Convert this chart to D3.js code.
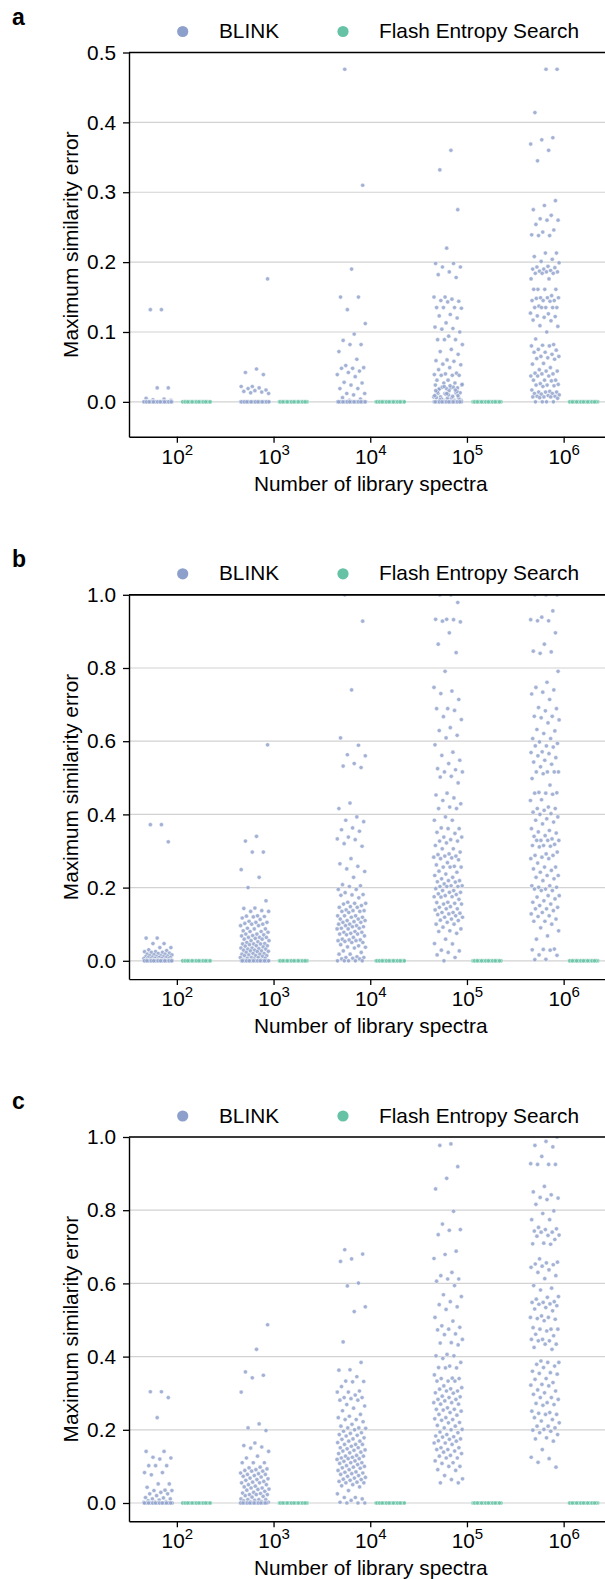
<!DOCTYPE html>
<html>
<head>
<meta charset="utf-8">
<script src="https://cdn.jsdelivr.net/npm/d3@7"></script>
<style>
  body { margin: 0; background: #fff; }
  svg { display: block; font-family: "Liberation Sans", Arial, Helvetica, sans-serif; }
</style>
</head>
<body>
<svg id="chart" width="605" height="1579"></svg>
<script>
// categories: number of library spectra, 10^k
const exponents = [2, 3, 4, 5, 6];
const seriesNames = ['BLINK', 'Flash Entropy Search'];
const panelLetters = ['a', 'b', 'c'];
const yTicksA = [0, 0.1, 0.2, 0.3, 0.4, 0.5];
const yTicksBC = [0, 0.2, 0.4, 0.6, 0.8, 1.0];
const yDomainA = [-0.05, 0.5];
const yDomainBC = [-0.05, 1.0];

// ---- panel a, BLINK max similarity error ----
const blinkA2 = [0.132, 0.132, 0.02, 0.02, 0.005, 0.004, 0.003, 0.002,
  0,0,0,0,0,0,0,0,0,0,0,0,0,0,0,0,0,0,0,0,0,0,0,0,0,0,0,0,0,0,0,0,0,0,0,0];
const blinkA3 = [0.176, 0.047, 0.042, 0.039, 0.022, 0.022, 0.02, 0.019, 0.017, 0.016, 0.015, 0.014, 0.013, 0.012,
  0,0,0,0,0,0,0,0,0,0,0,0,0,0,0,0,0,0,0,0,0,0,0,0,0,0,0,0,0,0,0,0,0,0,0,0];
const blinkA4 = [0.476, 0.31, 0.19, 0.15, 0.15, 0.132, 0.112, 0.097, 0.088, 0.082, 0.082, 0.072, 0.061, 0.052,
  0.049, 0.048, 0.048, 0.044, 0.042, 0.039, 0.036, 0.028, 0.027, 0.024, 0.019, 0.019, 0.012, 0.012, 0.01,
  0.006, 0.004, 0.002,
  0,0,0,0,0,0,0,0,0,0,0,0,0,0,0,0,0,0,0,0,0,0,0,0,0,0,0,0,0,0,0,0,0,0,0];
const blinkA5 = [0.36, 0.332, 0.275, 0.22, 0.198, 0.198, 0.193, 0.193, 0.186, 0.182, 0.178, 0.15, 0.15, 0.147,
  0.145, 0.144, 0.143, 0.135, 0.135, 0.135, 0.134, 0.125, 0.123, 0.12, 0.113, 0.107, 0.105, 0.104, 0.1, 0.094,
  0.089, 0.089, 0.089, 0.082, 0.075, 0.072, 0.068, 0.06, 0.059, 0.058, 0.054, 0.053, 0.049, 0.046, 0.041, 0.04,
  0.039, 0.038, 0.038, 0.038, 0.031, 0.031, 0.027, 0.027, 0.024, 0.02, 0.019, 0.02, 0.019, 0.024, 0.021, 0.021,
  0.013, 0.016, 0.012, 0.013, 0.012, 0.007, 0.005, 0.007, 0.006, 0.005, 0.006, 0.002, 0.002, 0.002, 0.023,
  0.018, 0.015, 0.011, 0.009, 0.008, 0.004, 0.003, 0.01, 0.014, 0.017, 0.022, 0.025, 0.001, 0.003, 0.009, 0.012,
  0.016, 0,0,0,0,0,0,0,0,0,0,0,0,0,0,0,0,0,0,0,0,0,0,0,0,0];
const blinkA6 = [0.476, 0.476, 0.414, 0.378, 0.375, 0.369, 0.36, 0.345, 0.288, 0.281, 0.275, 0.267, 0.262, 0.26,
  0.26, 0.254, 0.246, 0.243, 0.239, 0.238, 0.238, 0.213, 0.213, 0.208, 0.204, 0.201, 0.199, 0.194, 0.193, 0.192,
  0.19, 0.19, 0.188, 0.187, 0.186, 0.186, 0.184, 0.184, 0.184, 0.176, 0.176, 0.161, 0.161, 0.161, 0.161, 0.152,
  0.149, 0.149, 0.149, 0.148, 0.145, 0.145, 0.145, 0.144, 0.137, 0.135, 0.135, 0.135, 0.135, 0.135, 0.127,
  0.126, 0.123, 0.122, 0.121, 0.117, 0.116, 0.109, 0.108, 0.1, 0.09, 0.082, 0.081, 0.08, 0.08, 0.075, 0.074,
  0.071, 0.071, 0.068, 0.065, 0.065, 0.063, 0.062, 0.061, 0.055, 0.054, 0.049, 0.046, 0.044, 0.044, 0.041, 0.04,
  0.04, 0.037, 0.037, 0.037, 0.031, 0.031, 0.031, 0.03, 0.026, 0.025, 0.024, 0.024, 0.023, 0.022, 0.017, 0.015,
  0.014, 0.014, 0.014, 0.012, 0.012, 0.011, 0.01, 0.009, 0.008, 0.008, 0.007, 0.007, 0.007, 0.006, 0.005,
  0, 0, 0, 0];

// ---- panel b ----
const blinkB2 = [0.372, 0.372, 0.325, 0.062, 0.062, 0.047, 0.047, 0.036, 0.036, 0.03, 0.028, 0.025, 0.025,
  0.023, 0.023, 0.021, 0.02, 0.018, 0.018, 0.017, 0.016, 0.014, 0.014, 0.013, 0.012, 0.011, 0.011, 0.01, 0.009,
  0.009, 0.008, 0.008, 0.007, 0.006, 0.006, 0.005, 0.005, 0.004, 0.004, 0.003, 0.002, 0.002,
  0,0,0,0,0,0,0,0,0,0,0,0,0,0,0,0,0,0,0,0,0,0,0,0,0,0,0,0,0,0,0,0,0,0,0];
const blinkB3 = [0.59, 0.34, 0.327, 0.297, 0.297, 0.249, 0.228, 0.2, 0.164, 0.144, 0.143, 0.137, 0.135, 0.135,
  0.123, 0.122, 0.121, 0.12, 0.117, 0.113, 0.108, 0.105, 0.105, 0.102, 0.1, 0.1, 0.096, 0.096, 0.089, 0.087,
  0.087, 0.082, 0.08, 0.08, 0.078, 0.073, 0.073, 0.071, 0.069, 0.068, 0.064, 0.064, 0.064, 0.061, 0.059, 0.059,
  0.055, 0.055, 0.052, 0.05, 0.047, 0.046, 0.046, 0.046, 0.044, 0.041, 0.041, 0.04, 0.038, 0.035, 0.035, 0.033,
  0.032, 0.032, 0.029, 0.029, 0.027, 0.027, 0.026, 0.025, 0.023, 0.02, 0.02, 0.018, 0.018, 0.016, 0.014, 0.014,
  0.014, 0.012, 0.009, 0.009, 0.009, 0.007, 0.007, 0.005, 0.003, 0.002,
  0,0,0,0,0,0,0,0,0,0,0,0,0,0,0,0,0,0,0,0,0,0];
const blinkB4 = [1.0, 0.928, 0.74, 0.609, 0.589, 0.563, 0.56, 0.539, 0.532, 0.528, 0.431, 0.416, 0.393, 0.384,
  0.38, 0.363, 0.358, 0.354, 0.338, 0.333, 0.331, 0.32, 0.313, 0.279, 0.265, 0.258, 0.251, 0.244, 0.228, 0.208,
  0.205, 0.203, 0.195, 0.195, 0.186, 0.181, 0.18, 0.179, 0.172, 0.16, 0.157, 0.157, 0.155, 0.151, 0.148, 0.146,
  0.146, 0.139, 0.137, 0.137, 0.135, 0.135, 0.132, 0.123, 0.123, 0.123, 0.119, 0.119, 0.114, 0.114, 0.11, 0.11,
  0.107, 0.105, 0.105, 0.1, 0.1, 0.096, 0.096, 0.093, 0.093, 0.089, 0.089, 0.087, 0.087, 0.08, 0.078, 0.078,
  0.075, 0.073, 0.073, 0.071, 0.068, 0.064, 0.059, 0.057, 0.057, 0.055, 0.055, 0.053, 0.05, 0.05, 0.044, 0.041,
  0.038, 0.037, 0.035, 0.027, 0.023, 0.018, 0.018, 0.011, 0.009, 0.009, 0.007, 0.005, 0.005, 0, 0, 0, 0, 0];
const blinkB5 = [1.0, 1.0, 0.979, 0.933, 0.933, 0.932, 0.928, 0.926, 0.896, 0.865, 0.842, 0.791, 0.747, 0.737,
  0.73, 0.714, 0.689, 0.689, 0.684, 0.667, 0.659, 0.637, 0.629, 0.616, 0.609, 0.59, 0.57, 0.561, 0.548, 0.539,
  0.525, 0.522, 0.516, 0.516, 0.504, 0.502, 0.486, 0.458, 0.453, 0.445, 0.438, 0.429, 0.42, 0.416, 0.416, 0.393,
  0.384, 0.384, 0.363, 0.361, 0.361, 0.351, 0.348, 0.338, 0.338, 0.331, 0.327, 0.327, 0.322, 0.315, 0.306,
  0.306, 0.297, 0.292, 0.29, 0.286, 0.286, 0.283, 0.281, 0.279, 0.276, 0.268, 0.262, 0.258, 0.256, 0.256,
  0.256, 0.245, 0.242, 0.237, 0.233, 0.228, 0.224, 0.219, 0.219, 0.216, 0.215, 0.21, 0.205, 0.205, 0.203,
  0.203, 0.203, 0.197, 0.192, 0.192, 0.187, 0.187, 0.183, 0.181, 0.178, 0.175, 0.175, 0.174, 0.168, 0.16,
  0.159, 0.157, 0.155, 0.155, 0.148, 0.146, 0.142, 0.142, 0.139, 0.132, 0.132, 0.13, 0.128, 0.126, 0.123,
  0.119, 0.119, 0.114, 0.111, 0.11, 0.105, 0.1, 0.1, 0.092, 0.087, 0.082, 0.08, 0.075, 0.059, 0.047, 0.046,
  0.029, 0.027, 0.023, 0.016, 0.009, 0];
const blinkB6 = [1.0, 1.0, 1.0, 0.956, 0.939, 0.932, 0.929, 0.929, 0.896, 0.865, 0.846, 0.844, 0.84, 0.791,
  0.761, 0.747, 0.74, 0.734, 0.729, 0.714, 0.692, 0.689, 0.683, 0.668, 0.668, 0.664, 0.658, 0.65, 0.632, 0.628,
  0.621, 0.607, 0.607, 0.598, 0.594, 0.587, 0.587, 0.584, 0.571, 0.569, 0.566, 0.56, 0.555, 0.548, 0.543,
  0.537, 0.53, 0.516, 0.516, 0.516, 0.516, 0.511, 0.498, 0.48, 0.46, 0.459, 0.458, 0.458, 0.455, 0.44, 0.438,
  0.42, 0.416, 0.416, 0.411, 0.406, 0.402, 0.4, 0.393, 0.388, 0.384, 0.379, 0.374, 0.361, 0.356, 0.352, 0.349,
  0.342, 0.34, 0.333, 0.329, 0.329, 0.329, 0.329, 0.318, 0.315, 0.315, 0.313, 0.311, 0.297, 0.292, 0.288,
  0.288, 0.283, 0.279, 0.279, 0.267, 0.256, 0.256, 0.251, 0.247, 0.242, 0.233, 0.233, 0.228, 0.224, 0.219,
  0.205, 0.205, 0.201, 0.201, 0.196, 0.196, 0.192, 0.192, 0.178, 0.178, 0.174, 0.169, 0.164, 0.16, 0.155,
  0.151, 0.146, 0.142, 0.142, 0.137, 0.132, 0.128, 0.123, 0.121, 0.114, 0.108, 0.108, 0.1, 0.09, 0.082, 0.068,
  0.059, 0.032, 0.031, 0.03, 0.029, 0.016, 0.015, 0.004, 0.003];

// ---- panel c ----
const blinkC2 = [0.304, 0.304, 0.288, 0.233, 0.141, 0.141, 0.125, 0.123, 0.12, 0.102, 0.102, 0.102, 0.083,
  0.083, 0.077, 0.052, 0.052, 0.043, 0.035, 0.034, 0.034, 0.029, 0.025, 0.025, 0.02, 0.015, 0.014, 0.011,
  0.011, 0.008, 0.006, 0.004, 0.003, 0.002,
  0,0,0,0,0,0,0,0,0,0,0,0,0,0,0,0,0,0,0,0,0,0,0,0,0,0,0,0,0,0,0,0,0,0,0];
const blinkC3 = [0.487, 0.42, 0.358, 0.349, 0.342, 0.303, 0.216, 0.205, 0.198, 0.164, 0.157, 0.153, 0.15,
  0.141, 0.128, 0.123, 0.11, 0.11, 0.11, 0.098, 0.096, 0.093, 0.091, 0.089, 0.087, 0.087, 0.082, 0.08, 0.078,
  0.078, 0.075, 0.073, 0.071, 0.068, 0.066, 0.064, 0.062, 0.059, 0.057, 0.055, 0.055, 0.05, 0.05, 0.046,
  0.044, 0.041, 0.041, 0.038, 0.037, 0.035, 0.032, 0.029, 0.027, 0.026, 0.023, 0.023, 0.023, 0.02, 0.018,
  0.016, 0.011, 0.009, 0.009, 0.009, 0.007, 0.006, 0.004, 0.003, 0.002,
  0,0,0,0,0,0,0,0,0,0,0,0,0,0,0,0,0,0,0,0];
const blinkC4 = [0.692, 0.68, 0.667, 0.66, 0.601, 0.593, 0.536, 0.523, 0.44, 0.384, 0.364, 0.363, 0.345, 0.333,
  0.332, 0.331, 0.318, 0.306, 0.303, 0.303, 0.295, 0.288, 0.288, 0.285, 0.281, 0.281, 0.269, 0.265, 0.259,
  0.252, 0.242, 0.237, 0.233, 0.228, 0.228, 0.222, 0.215, 0.21, 0.205, 0.205, 0.204, 0.2, 0.196, 0.192, 0.19,
  0.187, 0.185, 0.183, 0.178, 0.175, 0.174, 0.169, 0.169, 0.165, 0.16, 0.16, 0.16, 0.155, 0.151, 0.151, 0.148,
  0.145, 0.144, 0.142, 0.139, 0.137, 0.135, 0.13, 0.128, 0.128, 0.125, 0.123, 0.121, 0.121, 0.119, 0.115,
  0.114, 0.11, 0.11, 0.108, 0.105, 0.102, 0.1, 0.098, 0.096, 0.095, 0.091, 0.089, 0.085, 0.084, 0.082, 0.08,
  0.078, 0.075, 0.073, 0.07, 0.068, 0.065, 0.064, 0.062, 0.059, 0.057, 0.055, 0.055, 0.05, 0.047, 0.044,
  0.034, 0.025, 0.015, 0.015, 0.011, 0.007, 0.002, 0, 0, 0];
const blinkC5 = [0.981, 0.977, 0.919, 0.887, 0.858, 0.797, 0.762, 0.747, 0.745, 0.733, 0.688, 0.679, 0.668,
  0.63, 0.621, 0.612, 0.612, 0.606, 0.594, 0.569, 0.564, 0.55, 0.542, 0.536, 0.529, 0.507, 0.497, 0.484, 0.48,
  0.475, 0.473, 0.462, 0.46, 0.447, 0.438, 0.437, 0.432, 0.406, 0.402, 0.402, 0.395, 0.384, 0.374, 0.37,
  0.369, 0.369, 0.35, 0.341, 0.34, 0.34, 0.333, 0.333, 0.333, 0.32, 0.315, 0.312, 0.311, 0.306, 0.306, 0.301,
  0.3, 0.292, 0.29, 0.288, 0.283, 0.283, 0.279, 0.274, 0.274, 0.27, 0.27, 0.26, 0.256, 0.256, 0.254, 0.251,
  0.247, 0.242, 0.24, 0.233, 0.23, 0.228, 0.226, 0.22, 0.219, 0.212, 0.21, 0.205, 0.201, 0.2, 0.194, 0.192,
  0.187, 0.183, 0.181, 0.18, 0.175, 0.174, 0.17, 0.169, 0.164, 0.164, 0.16, 0.151, 0.151, 0.146, 0.146,
  0.142, 0.139, 0.135, 0.13, 0.128, 0.123, 0.123, 0.115, 0.11, 0.108, 0.1, 0.1, 0.091, 0.089, 0.075, 0.066,
  0.064, 0.055, 0.055];
const blinkC6 = [1.0, 0.988, 0.977, 0.973, 0.947, 0.927, 0.925, 0.925, 0.925, 0.865, 0.85, 0.842, 0.835, 0.833,
  0.829, 0.816, 0.798, 0.791, 0.774, 0.774, 0.753, 0.749, 0.747, 0.743, 0.74, 0.74, 0.732, 0.731, 0.729, 0.72,
  0.71, 0.708, 0.707, 0.667, 0.658, 0.656, 0.653, 0.651, 0.647, 0.644, 0.637, 0.63, 0.621, 0.613, 0.594,
  0.587, 0.582, 0.564, 0.562, 0.557, 0.55, 0.548, 0.548, 0.544, 0.543, 0.539, 0.534, 0.53, 0.525, 0.511,
  0.507, 0.507, 0.504, 0.502, 0.498, 0.479, 0.475, 0.475, 0.475, 0.47, 0.461, 0.457, 0.447, 0.447, 0.443,
  0.443, 0.434, 0.434, 0.425, 0.42, 0.388, 0.384, 0.384, 0.379, 0.374, 0.37, 0.36, 0.356, 0.354, 0.352, 0.34,
  0.338, 0.329, 0.324, 0.322, 0.32, 0.309, 0.306, 0.301, 0.297, 0.288, 0.288, 0.283, 0.274, 0.272, 0.269,
  0.267, 0.251, 0.247, 0.245, 0.242, 0.242, 0.233, 0.228, 0.224, 0.219, 0.21, 0.21, 0.205, 0.201, 0.199,
  0.196, 0.192, 0.187, 0.178, 0.175, 0.169, 0.146, 0.125, 0.121, 0.111, 0.098];

// Flash Entropy Search: error is exactly zero everywhere
const flashErrors = [0,0,0,0,0,0,0,0,0,0,0,0,0,0,0,0,0,0,0,0,0,0,0,0,0,0,0,0,0,0,0,0,0,0,0,0,0,0,0,0,0,0,0,0,0];

const panels = [
  {letter: panelLetters[0], domain: yDomainA, ticks: yTicksA, blink: [blinkA2, blinkA3, blinkA4, blinkA5, blinkA6]},
  {letter: panelLetters[1], domain: yDomainBC, ticks: yTicksBC, blink: [blinkB2, blinkB3, blinkB4, blinkB5, blinkB6]},
  {letter: panelLetters[2], domain: yDomainBC, ticks: yTicksBC, blink: [blinkC2, blinkC3, blinkC4, blinkC5, blinkC6]}
];

const svg = d3.select('#chart');
const colors = ['#8da0cb', '#66c2a5'];
const panelTop = [52.5, 594.8, 1137], plotH = 384.3;
const left = 129, right = 612.5;
const fs = 20.8;

const x = d3.scaleBand().domain(exponents).range([left, right]);
const bw = x.bandwidth();
const dodge = bw * 0.2, jitterW = bw * 0.15;
// evenly spread strip jitter (golden-ratio sequence)
const jit = i => (((i + 1) * 0.6180339887) % 1) * 2 - 1;

panels.forEach((p, k) => {
  const top = panelTop[k], bottom = top + plotH;
  const y = d3.scaleLinear().domain(p.domain).range([bottom, top]);
  const g = svg.append('g');

  g.append('clipPath').attr('id', 'clip' + k)
    .append('rect').attr('x', left).attr('y', top).attr('width', right - left).attr('height', plotH);

  // grid
  g.selectAll('.grid').data(p.ticks).enter().append('line')
    .attr('x1', left).attr('x2', right)
    .attr('y1', d => y(d)).attr('y2', d => y(d))
    .attr('stroke', '#d2d2d2').attr('stroke-width', 1.2);

  // points
  const pts = g.append('g').attr('clip-path', `url(#clip${k})`);
  exponents.forEach((e, ci) => {
    const cx = x(e) + bw / 2;
    [p.blink[ci], flashErrors].forEach((vals, si) => {
      const off = si === 0 ? -dodge : dodge;
      pts.selectAll(null).data(vals).enter().append('circle')
        .attr('cx', (d, i) => cx + off + jit(i + ci * 7) * jitterW)
        .attr('cy', d => y(d))
        .attr('r', 2.1)
        .attr('fill', colors[si]).attr('fill-opacity', 0.82)
        .attr('stroke', '#fff').attr('stroke-width', 0.45);
    });
  });

  // spines / axes
  g.append('line').attr('x1', left).attr('x2', right).attr('y1', top).attr('y2', top)
    .attr('stroke', '#000').attr('stroke-width', 1.7);

  const yAxis = g.append('g').attr('transform', `translate(${left},0)`)
    .call(d3.axisLeft(y).tickValues(p.ticks).tickFormat(d3.format('.1f')).tickSize(6).tickSizeOuter(0).tickPadding(7));
  yAxis.selectAll('text').attr('font-size', fs).attr('fill', '#000').attr('font-family', null);

  const xAxis = g.append('g').attr('transform', `translate(0,${bottom})`)
    .call(d3.axisBottom(x).tickSize(6).tickSizeOuter(0));
  xAxis.selectAll('.tick text').each(function(d) {
    const t = d3.select(this).text(null).attr('dy', null).attr('y', 27)
      .attr('font-size', fs).attr('fill', '#000').attr('font-family', null);
    t.append('tspan').text('10');
    t.append('tspan').attr('dy', -9).attr('font-size', 15).text(d);
  });
  [yAxis, xAxis].forEach(a => {
    a.select('.domain').attr('stroke', '#000').attr('stroke-width', 1.4);
    a.selectAll('.tick line').attr('stroke', '#000').attr('stroke-width', 1.3);
  });

  // axis titles
  g.append('text').attr('x', (left + right) / 2).attr('y', bottom + 54)
    .attr('text-anchor', 'middle').attr('font-size', fs).text('Number of library spectra');
  g.append('text').attr('transform', `translate(78,${(top + bottom) / 2}) rotate(-90)`)
    .attr('text-anchor', 'middle').attr('font-size', fs).text('Maximum similarity error');

  // panel letter
  g.append('text').attr('x', 12).attr('y', top - 28).attr('font-size', 23)
    .attr('font-weight', 'bold').text(p.letter);

  // legend
  const legX = [[182.7, 219], [343, 379]];
  seriesNames.forEach((name, si) => {
    g.append('circle').attr('cx', legX[si][0]).attr('cy', top - 21).attr('r', 5.6).attr('fill', colors[si]);
    g.append('text').attr('x', legX[si][1]).attr('y', top - 14.5).attr('font-size', fs).text(name);
  });
});
</script>
</body>
</html>
